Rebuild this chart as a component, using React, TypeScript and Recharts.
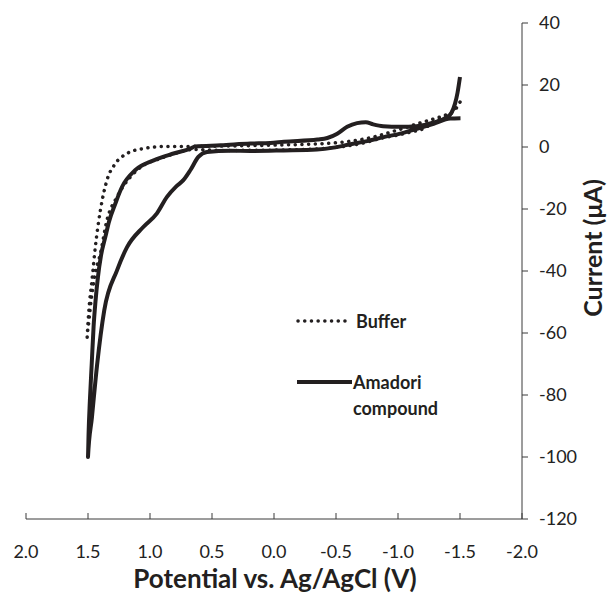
import React from 'react';
import { LineChart, Line, XAxis, YAxis, Legend, Label } from 'recharts';

// Potential (V) and current (µA)
const amadoriV = [
  -1.5, -1.48, -1.46, -1.43, -1.38, -1.29, -1.15, -1.02, -0.88, -0.8, -0.74, -0.67, -0.59, -0.51, -0.43, -0.35,
  -0.08, 0.03, 0.19, 0.43, 0.635, 0.675, 0.81, 0.97, 1.12, 1.226, 1.28, 1.33, 1.36, 1.395, 1.42, 1.44, 1.455,
  1.47, 1.485, 1.495, 1.5,
  1.468, 1.427, 1.369, 1.266, 1.185, 1.054, 0.944, 0.863, 0.788, 0.731, 0.675, 0.61, 0.54, 0.352, 0.19, -0.077,
  -0.347, -0.48, -0.615, -0.75, -0.884, -1.018, -1.153, -1.287, -1.421, -1.504,
];
const amadoriI = [
  22.6, 17.5, 14.0, 11.0, 9.3, 7.9, 6.7, 6.5, 6.7, 7.3, 8.0, 7.7, 6.5, 4.3, 2.9, 2.4,
  1.7, 1.3, 1.1, 0.55, 0.2, -0.5, -2.1, -4.3, -7.5, -12.9, -18.3, -24, -29, -35, -42, -50, -58,
  -70, -82, -92, -100,
  -87.1, -70.4, -52.7, -39.8, -32.3, -25.8, -21.4, -16.1, -12.7, -10.7, -7.5, -3.2, -1.6, -1.2, -1.3, -1.1,
  -0.8, -0.2, 0.9, 1.9, 3.2, 4.3, 5.9, 7.5, 9.2, 9.3,
];

const bufferV = [
  -1.5, -1.46, -1.4, -1.3, -1.19, -1.0, -0.8, -0.6, -0.4, 0.0, 0.4, 0.7, 0.863, 1.052, 1.185, 1.28, 1.347,
  1.4, 1.441, 1.468, 1.495, 1.508,
  1.495, 1.47, 1.441, 1.4, 1.347, 1.266, 1.159, 1.052, 0.917, 0.756, 0.648, 0.4, 0.0, -0.35, -0.7, -0.884,
  -0.992, -1.1, -1.206, -1.31, -1.395, -1.448, -1.476,
];
const bufferI = [
  14.5, 12.0, 10.6, 9.2, 7.9, 5.5, 3.2, 1.8, 1.1, 0.6, 0.3, 0.2, 0.2, -0.5, -2.1, -5.4, -10.7,
  -20.4, -32.3, -43, -53.7, -62.4,
  -57, -48, -40.8, -34.4, -23.6, -16.1, -9.7, -5.9, -3.7, -1.6, -0.8, -1.1, -1.0, -0.6, 1.1, 3.0,
  3.8, 4.8, 5.9, 8.6, 9.7, 11.8, 14.0,
];

const xTicks = [2, 1.5, 1, 0.5, 0, -0.5, -1, -1.5, -2];
const yTicks = [40, 20, 0, -20, -40, -60, -80, -100, -120];
const seriesNames = ['Buffer', 'Amadori compound'];
const xTitle = 'Potential vs. Ag/AgCl (V)';
const yTitle = 'Current (μA)';

const bufferData = bufferV.map((v, k) => ({ v, i: bufferI[k] }));
const amadoriData = amadoriV.map((v, k) => ({ v, i: amadoriI[k] }));

const FONT = "Lato, 'Open Sans', sans-serif";
const INK = '#231f20';
const AXIS = '#3a3a3a';

const XTick = (props: any) => {
  const { x, y, payload } = props;
  const val = Number(payload.value);
  const label = Math.abs(val) < 1e-9 ? '0.0' : val.toFixed(1);
  return (
    <g>
      <line x1={x} y1={y} x2={x} y2={y - 6} stroke={AXIS} strokeWidth={1} />
      <text x={x} y={y + 39} textAnchor="middle" fontFamily={FONT} fontSize={18} fill="#222">
        {label}
      </text>
    </g>
  );
};

const LegendContent = () => (
  <svg width={220} height={130} style={{ overflow: 'visible' }}>
    <line x1={8} y1={21} x2={57} y2={21} stroke={INK} strokeWidth={3.5} strokeDasharray="0.1 6.6" strokeLinecap="round" />
    <text x={66} y={21} dominantBaseline="central" fontFamily={FONT} fontWeight={700} fontSize={18} fill={INK}>
      {seriesNames[0]}
    </text>
    <line x1={7} y1={82} x2={62} y2={82} stroke={INK} strokeWidth={4} />
    <text x={63} y={82} dominantBaseline="central" fontFamily={FONT} fontWeight={700} fontSize={18} fill={INK}>
      {seriesNames[1].split(' ')[0]}
    </text>
    <text x={63} y={108} dominantBaseline="central" fontFamily={FONT} fontWeight={700} fontSize={18} fill={INK}>
      {seriesNames[1].split(' ')[1]}
    </text>
  </svg>
);

export default function App() {
  return (
    <div style={{ position: 'absolute', left: 0, top: 0, background: '#fff' }}>
      <LineChart width={609} height={596} margin={{ top: 23, right: 0, left: 26, bottom: 0 }}>
        <XAxis
          type="number"
          dataKey="v"
          domain={[-2, 2]}
          reversed
          ticks={xTicks}
          interval={0}
          height={77}
          tickSize={0}
          tickMargin={0}
          tickLine={false}
          axisLine={{ stroke: AXIS, strokeWidth: 1 }}
          tick={<XTick />}
          allowDataOverflow
        >
          <Label
            content={() => (
              <text x={275} y={578} textAnchor="middle" dominantBaseline="central" fontFamily={FONT} fontWeight={700} fontSize={26} fill={INK}>
                {xTitle}
              </text>
            )}
          />
        </XAxis>
        <YAxis
          type="number"
          orientation="right"
          domain={[-120, 40]}
          ticks={yTicks}
          interval={0}
          width={87}
          tickSize={6}
          tickMargin={11}
          tickLine={{ stroke: AXIS, strokeWidth: 1 }}
          axisLine={{ stroke: AXIS, strokeWidth: 1 }}
          tick={{ fontFamily: FONT, fontSize: 18, fill: '#222' }}
          allowDataOverflow
        >
          <Label
            content={() => (
              <text
                x={592}
                y={248}
                transform="rotate(-90, 592, 248)"
                textAnchor="middle"
                dominantBaseline="central"
                fontFamily={FONT}
                fontWeight={700}
                fontSize={25}
                fill={INK}
              >
                {yTitle}
              </text>
            )}
          />
        </YAxis>
        <Legend
          layout="vertical"
          align="center"
          verticalAlign="middle"
          wrapperStyle={{ position: 'absolute', left: 290, top: 300, width: 220, height: 130 }}
          content={<LegendContent />}
        />
        <Line
          data={bufferData}
          dataKey="i"
          name={seriesNames[0]}
          type="monotone"
          stroke={INK}
          strokeWidth={3.5}
          strokeDasharray="0.1 6.6"
          strokeLinecap="round"
          dot={false}
          activeDot={false}
          isAnimationActive={false}
        />
        <Line
          data={amadoriData}
          dataKey="i"
          name={seriesNames[1]}
          type="monotone"
          stroke={INK}
          strokeWidth={4}
          strokeLinejoin="round"
          dot={false}
          activeDot={false}
          isAnimationActive={false}
        />
      </LineChart>
    </div>
  );
}
